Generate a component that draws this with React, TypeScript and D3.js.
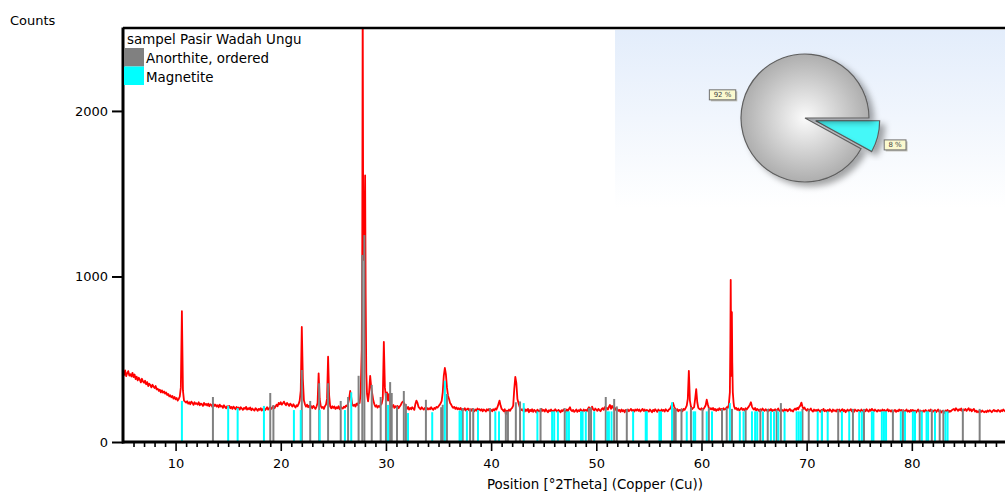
import React, { useEffect, useRef } from 'react'
import * as d3 from 'd3'

// measured pattern, 5.0 .. 89.0 deg 2theta, 0.1 deg step, one row per degree
const START = 5
const STEP = 0.1
const patternCounts = [
  [420, 405, 432, 398, 415, 428, 401, 410, 396, 418],
  [392, 408, 380, 395, 372, 388, 376, 360, 382, 366],
  [358, 370, 349, 362, 338, 352, 344, 330, 346, 335],
  [326, 338, 318, 322, 309, 316, 300, 312, 298, 305],
  [292, 300, 284, 290, 276, 282, 270, 278, 262, 272],
  [258, 266, 250, 260, 275, 330, 790, 310, 250, 244],
  [238, 246, 232, 240, 228, 244, 236, 224, 240, 230],
  [234, 226, 240, 222, 232, 228, 218, 236, 224, 230],
  [220, 232, 216, 228, 224, 212, 230, 218, 226, 214],
  [222, 210, 226, 214, 218, 206, 222, 212, 204, 216],
  [210, 218, 204, 212, 200, 214, 206, 198, 212, 202],
  [208, 196, 210, 202, 194, 206, 200, 212, 196, 204],
  [198, 208, 192, 202, 196, 190, 204, 198, 188, 200],
  [194, 204, 190, 198, 206, 192, 200, 210, 196, 204],
  [212, 200, 208, 218, 204, 214, 226, 216, 236, 228],
  [240, 226, 234, 244, 230, 222, 236, 228, 218, 232],
  [224, 214, 228, 218, 208, 222, 216, 230, 250, 310],
  [695, 380, 252, 228, 214, 226, 210, 220, 208, 216],
  [204, 218, 210, 200, 214, 236, 415, 260, 218, 206],
  [212, 200, 216, 226, 262, 515, 280, 214, 204, 216],
  [206, 214, 200, 210, 204, 216, 198, 212, 206, 202],
  [214, 208, 220, 216, 232, 260, 308, 270, 226, 218],
  [226, 214, 232, 224, 240, 236, 262, 330, 2700, 1150],
  [1610, 620, 290, 245, 300, 400, 330, 290, 250, 228],
  [214, 222, 208, 218, 212, 224, 232, 262, 605, 330],
  [270, 300, 250, 290, 232, 218, 212, 224, 206, 216],
  [210, 218, 204, 214, 222, 236, 244, 238, 226, 212],
  [200, 212, 196, 206, 198, 210, 202, 194, 230, 250],
  [236, 212, 204, 198, 210, 202, 196, 206, 200, 206],
  [196, 204, 198, 210, 200, 194, 206, 200, 212, 208],
  [216, 224, 234, 248, 300, 400, 447, 410, 330, 280],
  [260, 236, 226, 214, 206, 212, 200, 208, 198, 204],
  [196, 206, 192, 200, 194, 204, 190, 198, 202, 192],
  [198, 188, 200, 194, 186, 196, 190, 202, 192, 198],
  [190, 198, 186, 196, 192, 184, 198, 190, 200, 188],
  [194, 186, 198, 190, 202, 196, 210, 230, 250, 220],
  [200, 194, 186, 198, 168, 190, 184, 196, 188, 200],
  [206, 220, 320, 393, 355, 260, 236, 214, 200, 194],
  [190, 204, 184, 196, 188, 200, 180, 194, 186, 198],
  [182, 194, 188, 178, 196, 186, 190, 182, 200, 188],
  [194, 184, 198, 188, 180, 192, 186, 196, 182, 190],
  [186, 198, 190, 182, 194, 188, 180, 192, 186, 196],
  [190, 182, 196, 186, 200, 210, 192, 186, 194, 182],
  [188, 196, 182, 192, 186, 198, 190, 184, 196, 188],
  [194, 186, 200, 210, 196, 188, 214, 198, 190, 202],
  [196, 188, 200, 192, 186, 198, 204, 194, 210, 200],
  [206, 196, 212, 224, 200, 218, 208, 196, 204, 192],
  [198, 188, 194, 182, 196, 186, 192, 180, 194, 188],
  [196, 186, 192, 200, 188, 194, 184, 196, 190, 198],
  [188, 196, 184, 192, 200, 188, 196, 182, 194, 190],
  [184, 196, 188, 180, 194, 186, 198, 190, 182, 196],
  [190, 182, 196, 188, 194, 184, 198, 190, 186, 196],
  [200, 212, 228, 236, 214, 200, 192, 198, 186, 194],
  [190, 198, 186, 200, 194, 206, 220, 260, 430, 250],
  [214, 198, 206, 210, 260, 320, 240, 206, 200, 196],
  [204, 192, 200, 210, 222, 256, 228, 206, 198, 204],
  [196, 206, 192, 200, 188, 198, 192, 204, 194, 200],
  [192, 204, 196, 200, 210, 206, 224, 300, 980, 785],
  [420, 215, 200, 206, 194, 202, 190, 198, 206, 194],
  [200, 190, 204, 196, 206, 214, 226, 240, 214, 202],
  [196, 206, 190, 200, 194, 186, 198, 190, 202, 194],
  [188, 198, 192, 184, 196, 190, 200, 186, 194, 190],
  [198, 188, 194, 202, 190, 186, 196, 192, 184, 198],
  [190, 196, 186, 194, 200, 188, 192, 184, 196, 202],
  [194, 206, 198, 212, 220, 238, 214, 200, 208, 196],
  [190, 200, 186, 194, 202, 190, 184, 196, 188, 194],
  [186, 196, 190, 182, 194, 188, 200, 186, 192, 184],
  [194, 186, 198, 190, 182, 196, 188, 192, 184, 196],
  [188, 196, 184, 192, 198, 186, 194, 180, 190, 196],
  [184, 192, 198, 186, 194, 182, 196, 190, 186, 194],
  [190, 184, 196, 188, 180, 194, 186, 198, 190, 184],
  [196, 188, 200, 192, 186, 196, 190, 184, 194, 188],
  [192, 184, 196, 188, 194, 182, 190, 198, 186, 192],
  [184, 192, 178, 188, 194, 182, 190, 186, 196, 188],
  [194, 186, 192, 180, 188, 196, 184, 190, 182, 194],
  [186, 194, 182, 190, 178, 188, 196, 184, 190, 186],
  [180, 190, 184, 194, 186, 178, 192, 186, 196, 182],
  [190, 184, 194, 180, 188, 196, 184, 190, 178, 188],
  [184, 176, 190, 186, 194, 180, 188, 184, 192, 196],
  [200, 190, 204, 196, 188, 198, 192, 202, 186, 196],
  [192, 200, 188, 196, 204, 190, 198, 186, 194, 200],
  [184, 190, 180, 186, 178, 188, 182, 190, 184, 180],
  [186, 180, 190, 184, 192, 186, 180, 188, 194, 186],
  [190, 184, 194, 188, 182, 192, 186, 196, 190, 184],
  [188],
]

// finer readings across the two split peaks
const doublet28 = [
  [27.6, 300], [27.7, 560], [27.75, 1200], [27.79, 2700], [27.84, 1300],
  [27.9, 1100], [27.96, 1250], [28.02, 1610], [28.07, 900], [28.13, 420], [28.2, 290],
]
const doublet63 = [
  [62.6, 224], [62.7, 300], [62.75, 620], [62.78, 980], [62.82, 560], [62.85, 400],
  [62.89, 785], [62.93, 480], [62.98, 300], [63.05, 240], [63.1, 215],
]

// reference sticks [2theta, height]
const anorthite = [
  [13.55, 272], [19.0, 296], [19.3, 223], [22.0, 435], [22.8, 248], [23.65, 355],
  [24.5, 355], [25.7, 248], [26.4, 272], [27.4, 400], [27.75, 1130], [27.95, 1250],
  [28.65, 345], [29.5, 272], [30.0, 296], [30.4, 362], [30.55, 296], [31.05, 215],
  [31.7, 308], [31.9, 230], [33.8, 255], [35.25, 210], [35.4, 225], [35.8, 290],
  [37.3, 205], [38.0, 200], [38.3, 205], [39.9, 205], [41.4, 185], [41.6, 185],
  [42.35, 240], [42.75, 245], [44.7, 205], [47.0, 205], [49.3, 205], [49.5, 210],
  [50.9, 272], [51.7, 260], [51.95, 215], [52.9, 200], [57.4, 205], [57.55, 200],
  [58.1, 200], [59.0, 210], [60.1, 200], [60.7, 205], [61.95, 200], [62.4, 205],
  [62.9, 200], [64.2, 195], [65.6, 195], [66.3, 200], [67.15, 195], [67.55, 235],
  [69.6, 200], [70.2, 195], [71.45, 195], [73.0, 195], [74.4, 200], [75.45, 200],
  [78.2, 195], [79.15, 195], [80.75, 195], [81.9, 195], [82.65, 195], [83.0, 195],
  [84.85, 200], [86.45, 200],
]
const magnetite = [
  [10.6, 248], [15.0, 218], [15.9, 205], [18.4, 218], [21.25, 193], [21.9, 193],
  [23.7, 193], [26.1, 193], [26.7, 300], [30.2, 224], [32.1, 175], [34.4, 180],
  [35.6, 370], [37.0, 190], [37.15, 190], [37.7, 190], [38.75, 193], [40.4, 185],
  [40.75, 185], [43.1, 235], [44.4, 185], [45.8, 185], [46.0, 185], [46.35, 185],
  [47.2, 185], [47.4, 185], [48.55, 185], [48.7, 185], [49.0, 185], [49.8, 185],
  [51.05, 185], [51.2, 185], [51.45, 185], [53.5, 185], [54.7, 185], [54.8, 185],
  [56.0, 185], [56.15, 185], [57.2, 240], [58.6, 185], [59.25, 185], [59.4, 185],
  [60.5, 185], [61.0, 185], [62.7, 235], [63.65, 185], [64.0, 185], [64.8, 185],
  [65.1, 185], [65.3, 185], [65.85, 185], [66.6, 185], [66.9, 185], [67.3, 185],
  [67.9, 185], [69.05, 185], [69.25, 185], [69.45, 185], [71.05, 185], [71.45, 185],
  [72.0, 185], [73.35, 185], [74.05, 185], [75.0, 185], [75.25, 185], [76.2, 185],
  [76.35, 185], [77.15, 185], [77.35, 185], [77.55, 185], [78.95, 185], [79.35, 185],
  [80.1, 185], [80.3, 185], [80.95, 185], [81.4, 185], [81.55, 185], [82.2, 185],
  [83.2, 185], [83.4, 185],
]

const phases = ['Anorthite, ordered', 'Magnetite']
const phaseColors = ['#808080', '#00ffff']
const phaseShares = [92, 8]
const sampleName = 'sampel Pasir Wadah Ungu'
const xTicks = [10, 20, 30, 40, 50, 60, 70, 80]
const yTicks = [0, 1000, 2000]

const W = 1005
const H = 493
const FONT = 'DejaVu Sans, Verdana, sans-serif'

function draw(el: SVGSVGElement) {
  const svg = d3.select(el)
  svg.selectAll('*').remove()

  const left = 123, top = 29, bottom = 442
  const x = d3.scaleLinear().domain([5, 90]).range([left, 1017])
  const y = d3.scaleLinear().domain([0, 2495]).range([bottom, top])

  const grid = patternCounts.flat().map((c, i) => [Math.round((START + i * STEP) * 100) / 100, c])
  const details = [doublet28, doublet63]
  const points = grid
    .filter(([t]) => !details.some(seg => t >= seg[0][0] && t <= seg[seg.length - 1][0]))
    .concat(details.flat())
    .sort((a, b) => a[0] - b[0])

  const defs = svg.append('defs')
  defs.append('clipPath').attr('id', 'plot-clip')
    .append('rect').attr('x', left).attr('y', top).attr('width', W - left).attr('height', bottom - top)

  const bg = defs.append('linearGradient').attr('id', 'inset-bg').attr('x1', 0).attr('y1', 0).attr('x2', 0).attr('y2', 1)
  bg.append('stop').attr('offset', '0%').attr('stop-color', '#e3edfb')
  bg.append('stop').attr('offset', '100%').attr('stop-color', '#ffffff')

  const pieGrad = defs.append('radialGradient').attr('id', 'pie-gray')
    .attr('cx', '0.5').attr('cy', '0.5').attr('r', '0.55')
  pieGrad.append('stop').attr('offset', '0%').attr('stop-color', '#fbfbfb')
  pieGrad.append('stop').attr('offset', '100%').attr('stop-color', '#a6a6a6')

  const shadow = defs.append('filter').attr('id', 'pie-shadow')
    .attr('x', '-20%').attr('y', '-20%').attr('width', '150%').attr('height', '150%')
  shadow.append('feDropShadow').attr('dx', 5).attr('dy', 4).attr('stdDeviation', 3)
    .attr('flood-color', '#000').attr('flood-opacity', 0.35)

  const plot = svg.append('g').attr('clip-path', 'url(#plot-clip)')

  plot.append('path')
    .datum(points)
    .attr('fill', 'none')
    .attr('stroke', '#ff0000')
    .attr('stroke-width', 1.8)
    .attr('stroke-linejoin', 'round')
    .attr('d', d3.line<number[]>().x(d => x(d[0])).y(d => y(d[1])))

  const sticks = [anorthite, magnetite]
  sticks.forEach((list, k) => {
    plot.append('g').selectAll('line')
      .data(list)
      .enter().append('line')
      .attr('x1', d => x(d[0])).attr('x2', d => x(d[0]))
      .attr('y1', y(0)).attr('y2', d => y(d[1]))
      .attr('stroke', phaseColors[k])
      .attr('stroke-width', 2)
  })

  // inset with phase shares
  svg.append('rect').attr('x', 615).attr('y', 30).attr('width', W - 615).attr('height', 178)
    .attr('fill', 'url(#inset-bg)')

  const cx = 805, cy = 118, r = 64
  const pie = d3.pie<number>().sort(null).startAngle(Math.PI / 2).endAngle(Math.PI / 2 + 2 * Math.PI)
  const arcs = pie([phaseShares[1], phaseShares[0]])
  const arc = d3.arc<d3.PieArcDatum<number>>().innerRadius(0).outerRadius(r)
  const labelArc = d3.arc<d3.PieArcDatum<number>>().innerRadius(r * 1.33).outerRadius(r * 1.33)
  const pieG = svg.append('g').attr('transform', `translate(${cx},${cy})`)

  arcs.forEach((a, i) => {
    const mid = (a.startAngle + a.endAngle) / 2
    const off = i === 0 ? 11 : 0
    const dx = Math.sin(mid) * off, dy = -Math.cos(mid) * off
    pieG.append('path')
      .attr('transform', `translate(${dx},${dy})`)
      .attr('d', arc(a))
      .attr('fill', i === 0 ? '#44f8f8' : 'url(#pie-gray)')
      .attr('stroke', '#5f5f5f')
      .attr('stroke-width', 1.2)
      .attr('filter', 'url(#pie-shadow)')

    const [lx, ly] = labelArc.centroid(a)
    const txt = `${a.data} %`
    const bw = txt.length * 4.6 + 8
    const lg = pieG.append('g').attr('transform', `translate(${lx + dx - (i === 0 ? 3 : 0)},${ly + dy + (i === 0 ? 3 : -2)})`)
    lg.append('rect').attr('x', -bw / 2 + 1.5).attr('y', -3.5).attr('width', bw).attr('height', 10)
      .attr('fill', '#b9b9b0')
    lg.append('rect').attr('x', -bw / 2).attr('y', -5).attr('width', bw).attr('height', 10)
      .attr('fill', '#fbf9cf').attr('stroke', '#707070').attr('stroke-width', 1)
    lg.append('text').attr('x', 0).attr('y', 2.5).attr('text-anchor', 'middle')
      .attr('font-family', FONT).attr('font-size', 7).attr('fill', '#444')
      .text(txt)
  })

  // axes
  const xMajor = d3.axisBottom(x).tickValues(xTicks).tickSize(9).tickPadding(8).tickFormat(d3.format('d'))
  const xMinor = d3.axisBottom(x).tickValues(d3.range(6, 90, 1).filter(v => v % 10 !== 0)).tickSize(5).tickFormat(() => '')
  const yAxis = d3.axisLeft(y).tickValues(yTicks).tickSize(11).tickPadding(4).tickFormat(d3.format('d'))

  const gx = svg.append('g').attr('transform', `translate(0,${bottom})`)
  gx.call(xMinor)
  gx.append('g').call(xMajor)
  const gy = svg.append('g').attr('transform', `translate(${left},0)`).call(yAxis)

  svg.selectAll('.domain').remove()
  svg.selectAll('.tick line').attr('stroke', '#000').attr('stroke-width', 1.6)
  svg.selectAll('.tick text').attr('font-family', FONT).attr('font-size', 13).attr('fill', '#000')
  gy.selectAll('.tick line').attr('stroke-width', 2)

  svg.append('line').attr('x1', left - 1).attr('x2', W).attr('y1', bottom).attr('y2', bottom)
    .attr('stroke', '#000').attr('stroke-width', 3)
  svg.append('line').attr('x1', left).attr('x2', left).attr('y1', top - 1.5).attr('y2', bottom + 1.5)
    .attr('stroke', '#000').attr('stroke-width', 3)
  svg.append('line').attr('x1', left).attr('x2', W).attr('y1', top - 1).attr('y2', top - 1)
    .attr('stroke', '#000').attr('stroke-width', 2.5)

  // legend
  const legend = svg.append('g').attr('font-family', FONT).attr('font-size', 13.4)
  legend.append('text').attr('x', 127).attr('y', 44).text(sampleName)
  phases.forEach((p, i) => {
    legend.append('rect').attr('x', 124).attr('y', 48 + i * 18.5).attr('width', 20).attr('height', 18.5)
      .attr('fill', phaseColors[i])
    legend.append('text').attr('x', 146).attr('y', 63 + i * 18.5).text(p)
  })

  svg.append('text').attr('x', 10).attr('y', 25)
    .attr('font-family', FONT).attr('font-size', 13).text('Counts')
  svg.append('text').attr('x', 595).attr('y', 489).attr('text-anchor', 'middle')
    .attr('font-family', FONT).attr('font-size', 13.4).text('Position [°2Theta] (Copper (Cu))')
}

export default function App() {
  const ref = useRef<SVGSVGElement>(null)
  useEffect(() => {
    if (ref.current) draw(ref.current)
  }, [])
  return (
    <svg ref={ref} width={W} height={H} style={{ position: 'absolute', left: 0, top: 0, background: '#fff' }} />
  )
}
